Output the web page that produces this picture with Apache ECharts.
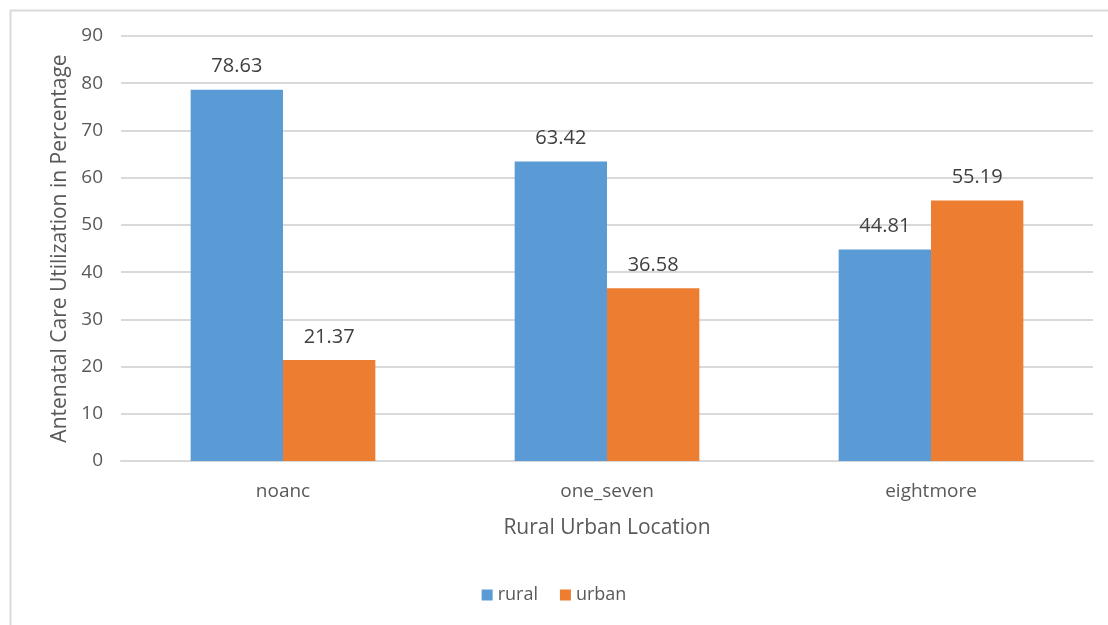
<!DOCTYPE html>
<html>
<head>
<meta charset="utf-8">
<script src="https://cdn.jsdelivr.net/npm/echarts@6/dist/echarts.min.js"></script>
<style>
html, body { margin: 0; padding: 0; background: #fff; }
#main { width: 1108px; height: 625px; }
</style>
</head>
<body>
<div id="main"></div>
<script>
var categories = ['noanc', 'one_seven', 'eightmore'];
var rural = [78.63, 63.42, 44.81];
var urban = [21.37, 36.58, 55.19];

var font = '"Open Sans", "Noto Sans", sans-serif';
var myChart = echarts.init(document.getElementById('main'));

var option = {
	animation: false,
	textStyle: { fontFamily: font },
	graphic: [{
		type: 'rect',
		left: 8,
		top: 8,
		shape: { width: 1130, height: 640 },
		style: { fill: 'none', stroke: '#d9d9d9', lineWidth: 2 }
	}],
	grid: {
		left: 121,
		right: 15,
		top: 36,
		bottom: 164
	},
	legend: {
		bottom: 16,
		left: 'center',
		itemWidth: 11,
		itemHeight: 11,
		itemGap: 22,
		icon: 'rect',
		textStyle: { color: '#595959', fontSize: 18, fontFamily: font },
		data: ['rural', 'urban']
	},
	xAxis: {
		type: 'category',
		data: categories,
		name: 'Rural Urban Location',
		nameLocation: 'middle',
		nameGap: 57,
		nameTextStyle: { color: '#595959', fontSize: 21, fontFamily: font },
		axisLine: { lineStyle: { color: '#d9d9d9', width: 2 } },
		axisTick: { show: false },
		axisLabel: { color: '#595959', fontSize: 19, margin: 21, fontFamily: font }
	},
	yAxis: {
		type: 'value',
		min: 0,
		max: 90,
		interval: 10,
		name: 'Antenatal Care Utilization in Percentage',
		nameLocation: 'middle',
		nameGap: 50,
		nameTextStyle: { color: '#595959', fontSize: 21, fontFamily: font },
		axisLine: { show: false },
		axisTick: { show: false },
		axisLabel: { color: '#595959', fontSize: 19, margin: 18, fontFamily: font }
		,
		splitLine: { lineStyle: { color: '#d9d9d9', width: 2 } }
	},
	series: [{
		name: 'rural',
		type: 'bar',
		data: rural,
		barGap: '0%',
		barCategoryGap: '43%',
		itemStyle: { color: '#5b9bd5' },
		label: {
			show: true,
			position: 'top',
			distance: 13,
			color: '#404040',
			fontSize: 20,
			fontFamily: font
		}
	}, {
		name: 'urban',
		type: 'bar',
		data: urban,
		barGap: '0%',
		barCategoryGap: '43%',
		itemStyle: { color: '#ed7d31' },
		label: {
			show: true,
			position: 'top',
			distance: 13,
			color: '#404040',
			fontSize: 20,
			fontFamily: font
		}
	}]
};

myChart.setOption(option);
</script>
</body>
</html>
